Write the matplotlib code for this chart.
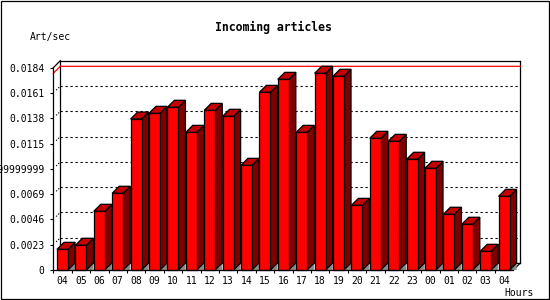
import matplotlib
matplotlib.use("Agg")
import matplotlib.pyplot as plt
from matplotlib.patches import Polygon, Rectangle

# hours shown on the x axis
hours = ['04', '05', '06', '07', '08', '09', '10', '11', '12', '13', '14', '15',
         '16', '17', '18', '19', '20', '21', '22', '23', '00', '01', '02', '03', '04']
# articles per second
rates = [0.00188, 0.00225, 0.00534, 0.00698, 0.01373, 0.01425, 0.0148, 0.01252,
         0.01452, 0.01398, 0.00952, 0.01616, 0.01734, 0.01252, 0.01789, 0.01762,
         0.00588, 0.01198, 0.0117, 0.01007, 0.00925, 0.00507, 0.00416, 0.0017, 0.0067]
ytick_vals = [0, 0.0023, 0.0046, 0.0069, 0.0092, 0.0115, 0.0138, 0.0161, 0.0184]
ytick_text = ['0', '0.0023', '0.0046', '0.0069', '0.009199999999', '0.0115',
              '0.0138', '0.0161', '0.0184']

mono = 'DejaVu Sans Mono'
W, H = 550, 300
fig = plt.figure(figsize=(5.5, 3), dpi=100)

# front plot area in pixels
left, right, bottom, top = 53.3, 513.3, 270, 67.7
ax = fig.add_axes([left / W, 1 - bottom / H, (right - left) / W, (bottom - top) / H])
ymax = ytick_vals[-1]
ax.set_xlim(-0.5, len(hours) - 0.5)
ax.set_ylim(0, ymax)

# 3D depth of 7 px in data units
dx = 7 / ((right - left) / len(hours))
dy = 7 * ymax / (bottom - top)
bw = 0.6
x0, x1 = -0.5, len(hours) - 0.5

# back plane grid
for v in ytick_vals[1:-1]:
    ax.plot([x0 + dx, x1 + dx], [v + dy, v + dy], color='black', lw=0.8,
            ls=(0, (2, 2.5)), clip_on=False, zorder=1)
    ax.plot([x0 + 0.15, x0 + dx], [v + 0.4 * dy, v + dy], color='black', lw=0.7,
            ls=(0, (1.5, 1.5)), clip_on=False, zorder=1)

# red line at the peak value
peak = max(rates)
ax.plot([x0, x0 + dx, x1 + dx], [peak, peak + dy, peak + dy], color='red', lw=0.9,
        clip_on=False, zorder=1.5)

# box edges
k = dict(color='black', lw=0.9, clip_on=False, zorder=1.2)
ax.plot([x0 + dx, x0 + dx], [dy, ymax + dy], **k)
ax.plot([x0 + dx, x1 + dx], [ymax + dy, ymax + dy], **k)
ax.plot([x1 + dx, x1 + dx], [dy, ymax + dy], **k)
ax.plot([x0, x0 + dx], [ymax, ymax + dy], **k)
ax.plot([x1, x1 + dx], [0, dy], **k)
ax.plot([x0 + dx, x1 + dx], [dy, dy], **k)

# bars
for i, v in enumerate(rates):
    l = i - bw / 2
    r = i + bw / 2
    ax.add_patch(Polygon([[r, 0], [r + dx, dy], [r + dx, 0]], closed=True,
                         facecolor='#8c8c8c', edgecolor='none', clip_on=False, zorder=2))
    ax.add_patch(Polygon([[r, 0], [r + dx, dy], [r + dx, v + dy], [r, v]], closed=True,
                         facecolor='#800000', edgecolor='black', lw=0.9,
                         clip_on=False, zorder=3))
    ax.add_patch(Polygon([[l, v], [l + dx, v + dy], [r + dx, v + dy], [r, v]], closed=True,
                         facecolor='#c40000', edgecolor='black', lw=0.9,
                         clip_on=False, zorder=3))
ax.bar(range(len(hours)), rates, width=bw, color='#ff0000', edgecolor='black',
       linewidth=0.9, zorder=4, clip_on=False)

for s in ['top', 'right']:
    ax.spines[s].set_visible(False)
for s in ['left', 'bottom']:
    ax.spines[s].set_linewidth(0.9)
    ax.spines[s].set_zorder(5)

ax.set_yticks(ytick_vals)
ax.set_yticklabels(ytick_text, fontfamily=mono, fontsize=7)
ax.set_xticks(range(len(hours)))
ax.set_xticklabels(hours, fontfamily=mono, fontsize=7)
ax.set_xticks([i - 0.5 for i in range(len(hours))], minor=True)
ax.tick_params(axis='x', which='major', length=0, pad=4)
ax.tick_params(axis='x', which='minor', length=2.5, width=0.8, direction='out')
ax.tick_params(axis='y', length=2.5, width=0.8, pad=4)

fig.text(273.9 / W, 1 - 27 / H, 'Incoming articles', fontfamily=mono, fontsize=8.3,
         fontweight='bold', ha='center', va='center')
fig.text(30 / W, 1 - 37 / H, 'Art/sec', fontfamily=mono, fontsize=7,
         ha='left', va='center')
fig.text(534 / W, 1 - 293.5 / H, 'Hours', fontfamily=mono, fontsize=7,
         ha='right', va='center')

fig.patches.append(Rectangle((0.5, 1.5), 548, 298, transform=None, fill=False,
                             edgecolor='black', lw=0.9))

fig.savefig('out.png', dpi=100)
